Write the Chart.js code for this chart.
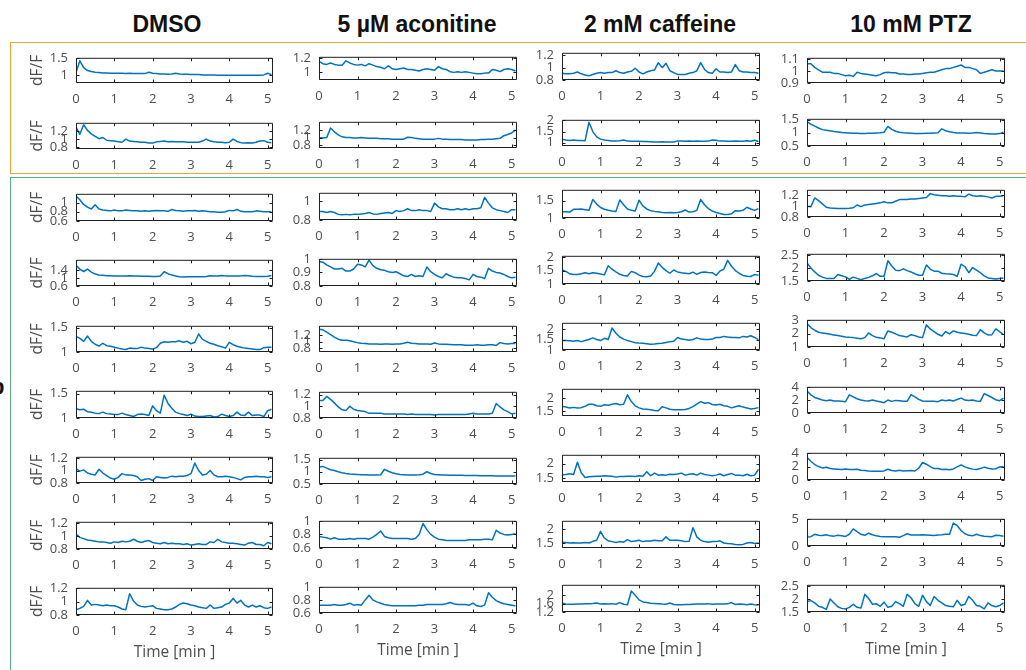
<!DOCTYPE html>
<html>
<head>
<meta charset="utf-8">
<title>dF/F traces</title>
<script src="https://cdn.jsdelivr.net/npm/chart.js@4.4.0/dist/chart.umd.min.js"></script>
<style>
  html, body { margin: 0; padding: 0; background: #fff; }
  body { position: relative; width: 1026px; height: 670px; overflow: hidden; }
  .group { position: absolute; box-sizing: border-box; border: 1.5px solid; }
  .cond {
    position: absolute; top: 13px; width: 260px; text-align: center;
    font: bold 23px/23px 'Liberation Sans', Arial, sans-serif; color: #111;
  }
  .tag { position: absolute; font: bold 22px/22px 'Liberation Sans', Arial, sans-serif; color: #111; }
  canvas { position: absolute; }
</style>
</head>
<body>
<div class="group" style="left:10px; top:42px; width:1030px; height:132px; border-color:#f5a234;"></div>
<div class="group" style="left:10px; top:177px; width:1030px; height:510px; border-color:#52b27a;"></div>
<div class="tag" style="left:-9px; top:376px;">b</div>
<div class="cond" style="left:37px;">DMSO</div>
<div class="cond" style="left:287px;">5 µM aconitine</div>
<div class="cond" style="left:530px;">2 mM caffeine</div>
<div class="cond" style="left:781px;">10 mM PTZ</div>
<script>
// sampling times (min)
const minutes = [
  0.0, 0.1, 0.2, 0.3, 0.4, 0.5, 0.6, 0.7, 0.8, 0.9,
  1.0, 1.1, 1.2, 1.3, 1.4, 1.5, 1.6, 1.7, 1.8, 1.9,
  2.0, 2.1, 2.2, 2.3, 2.4, 2.5, 2.6, 2.7, 2.8, 2.9,
  3.0, 3.1, 3.2, 3.3, 3.4, 3.5, 3.6, 3.7, 3.8, 3.9,
  4.0, 4.1, 4.2, 4.3, 4.4, 4.5, 4.6, 4.7, 4.8, 4.9,
  5.0, 5.1
];
const minuteTicks = [0, 1, 2, 3, 4, 5];

// DMSO
const dmso1 = [1.07,1.42,1.22,1.13,1.10,1.08,1.07,1.06,1.06,1.05, 1.05,1.05,1.05,1.04,1.05,1.04,1.04,1.04,1.04,1.08, 1.05,1.04,1.03,1.03,1.02,1.03,1.05,1.03,1.02,1.02, 1.01,1.01,1.01,1.00,1.00,1.00,1.00,0.99,0.99,0.99, 0.99,0.99,0.99,0.99,0.99,0.99,0.99,0.99,0.99,1.00, 1.05,1.01];
const dmso2 = [1.30,1.12,1.36,1.22,1.13,1.07,1.01,1.04,0.97,0.96, 0.95,0.93,0.92,1.00,0.95,0.94,0.93,0.92,0.92,0.90, 0.90,0.93,0.94,0.95,0.93,0.94,0.93,0.93,0.93,0.92, 0.92,0.92,0.92,0.95,1.00,0.95,0.93,0.92,0.92,0.91, 0.92,1.00,0.94,0.91,0.90,0.91,0.90,0.92,0.95,0.96, 0.92,0.91];
const dmso3 = [1.14,1.06,0.96,0.90,0.86,0.95,0.86,0.84,0.83,0.82, 0.84,0.82,0.82,0.84,0.83,0.82,0.82,0.81,0.82,0.81, 0.82,0.83,0.82,0.82,0.81,0.85,0.83,0.82,0.81,0.82, 0.82,0.83,0.81,0.82,0.81,0.80,0.80,0.79,0.79,0.80, 0.83,0.82,0.85,0.81,0.80,0.80,0.80,0.82,0.81,0.80, 0.80,0.80];
const dmso4 = [1.65,1.45,1.33,1.45,1.30,1.20,1.15,1.14,1.12,1.12, 1.11,1.11,1.10,1.10,1.12,1.10,1.10,1.09,1.09,1.09, 1.08,1.08,1.10,1.32,1.22,1.15,1.10,1.07,1.05,1.06, 1.06,1.06,1.06,1.07,1.08,1.12,1.10,1.10,1.13,1.11, 1.11,1.10,1.10,1.11,1.13,1.12,1.09,1.08,1.08,1.08, 1.09,1.13];
const dmso5 = [1.32,1.28,1.22,1.33,1.22,1.16,1.12,1.18,1.13,1.12, 1.10,1.08,1.06,1.05,1.08,1.07,1.07,1.10,1.08,1.07, 1.06,1.09,1.18,1.21,1.20,1.21,1.21,1.23,1.20,1.22, 1.17,1.20,1.37,1.26,1.22,1.18,1.16,1.13,1.11,1.08, 1.20,1.15,1.12,1.10,1.08,1.07,1.06,1.05,1.05,1.09, 1.10,1.10];
const dmso6 = [1.19,1.17,1.18,1.13,1.12,1.10,1.09,1.12,1.09,1.08, 1.07,1.07,1.10,1.07,1.05,1.03,1.07,1.08,1.07,1.05, 1.25,1.15,1.10,1.47,1.30,1.20,1.12,1.09,1.07,1.05, 1.08,1.04,1.03,1.03,1.04,1.05,1.02,1.03,1.08,1.05, 1.03,1.05,1.12,1.06,1.05,1.12,1.05,1.06,1.06,1.03, 1.15,1.18];
const dmso7 = [1.03,0.99,1.01,0.96,0.94,0.93,1.02,0.96,0.92,0.88, 0.86,0.89,0.95,0.93,0.93,0.92,0.90,0.84,0.86,0.87, 0.84,0.90,0.89,0.88,0.89,0.91,0.90,0.91,0.91,0.92, 0.95,1.12,1.00,0.93,0.94,1.00,0.93,0.90,0.90,0.91, 0.90,0.89,0.87,0.85,0.89,0.90,0.90,0.91,0.90,0.90, 0.89,0.90];
const dmso8 = [1.03,0.98,0.96,0.94,0.93,0.92,0.91,0.91,0.90,0.89, 0.91,0.90,0.92,0.91,0.92,0.95,0.92,0.90,0.92,0.93, 0.90,0.89,0.88,0.90,0.88,0.89,0.88,0.88,0.87,0.88, 0.86,0.87,0.88,0.87,0.87,0.91,0.90,0.95,0.91,0.90, 0.89,0.89,0.88,0.87,0.86,0.89,0.90,0.87,0.87,0.85, 0.90,0.88];
const dmso9 = [0.88,0.90,0.93,1.02,0.95,0.96,0.95,0.94,0.95,0.94, 0.94,0.92,0.89,0.88,1.12,1.01,0.95,0.93,0.92,0.93, 0.94,0.90,0.89,0.88,0.88,0.89,0.92,0.96,0.98,0.97, 0.95,0.94,0.92,0.91,0.90,0.95,0.90,0.91,0.92,0.96, 0.98,1.05,0.98,1.02,0.95,0.92,0.95,0.92,0.94,0.91, 0.90,0.92];
const dmsoRange = [[0.76, 1.51], [0.75, 1.41], [0.6, 1.19], [0.6, 1.92], [1.0, 1.54], [1.0, 1.56], [0.8, 1.22], [0.8, 1.22], [0.8, 1.21]];
const dmsoTicks = [[1, 1.5], [0.8, 1, 1.2], [0.6, 0.8, 1], [0.6, 1, 1.4], [1, 1.5], [1, 1.5], [0.8, 1, 1.2], [0.8, 1, 1.2], [0.8, 1, 1.2]];

// 5 uM aconitine
const aconitine1 = [1.15,1.12,1.11,1.13,1.11,1.10,1.10,1.16,1.13,1.11, 1.10,1.11,1.09,1.12,1.10,1.08,1.07,1.05,1.09,1.05, 1.04,1.05,1.06,1.04,1.04,1.03,1.02,1.04,1.05,1.04, 1.03,1.08,1.05,1.04,1.01,1.00,1.01,1.00,1.01,1.00, 0.99,0.98,0.98,0.99,0.99,1.04,1.03,1.01,1.04,1.05, 1.04,1.02];
const aconitine2 = [1.00,0.99,1.00,1.25,1.15,1.07,1.02,1.00,1.00,0.99, 0.99,1.00,0.99,0.98,0.98,0.98,0.97,0.97,0.97,0.96, 0.96,0.96,0.96,1.01,1.00,0.98,0.97,0.96,0.96,0.96, 0.96,0.98,0.96,0.96,0.95,0.95,0.95,0.95,0.94,0.94, 0.94,0.94,0.95,0.95,0.96,0.96,0.97,0.98,1.05,1.08, 1.12,1.20];
const aconitine3 = [0.89,0.89,0.88,0.89,0.88,0.86,0.855,0.86,0.855,0.86, 0.86,0.865,0.87,0.88,0.865,0.86,0.87,0.875,0.88,0.87, 0.90,0.89,0.90,0.92,0.90,0.90,0.91,0.90,0.90,0.89, 0.98,0.94,0.92,0.92,0.91,0.91,0.92,0.91,0.92,0.91, 0.92,0.92,0.93,1.04,0.98,0.93,0.91,0.90,0.89,0.88, 0.91,0.91];
const aconitine4 = [0.98,0.975,0.955,0.94,0.925,0.925,0.93,0.91,0.91,0.925, 0.96,0.955,0.94,0.99,0.95,0.93,0.92,0.915,0.905,0.90, 0.905,0.89,0.875,0.87,0.885,0.87,0.875,0.87,0.94,0.905, 0.885,0.87,0.86,0.89,0.875,0.865,0.86,0.86,0.855,0.845, 0.885,0.87,0.865,0.855,0.93,0.91,0.90,0.895,0.885,0.87, 0.86,0.865];
const aconitine5 = [1.40,1.38,1.31,1.23,1.15,1.08,1.05,1.05,1.03,1.00, 0.97,0.95,0.94,0.93,0.93,0.93,0.92,0.93,0.93,0.92, 0.93,0.93,0.95,0.98,0.95,0.94,0.93,0.93,0.93,0.92, 0.96,0.93,0.92,0.92,0.91,0.90,0.90,0.90,0.89,0.89, 0.89,0.90,0.89,0.89,0.90,0.90,0.88,0.97,0.94,0.93, 0.94,0.94];
const aconitine6 = [1.10,1.10,1.17,1.12,1.06,0.99,0.94,0.93,1.00,0.95, 0.93,0.92,0.91,0.88,0.88,0.88,0.88,0.87,0.87,0.87, 0.87,0.87,0.87,0.86,0.87,0.86,0.86,0.86,0.86,0.86, 0.85,0.86,0.86,0.86,0.86,0.86,0.86,0.86,0.86,0.87, 0.88,0.87,0.87,0.87,0.87,0.88,1.05,0.99,0.94,0.91, 0.87,0.88];
const aconitine7 = [1.18,1.22,1.15,1.08,1.05,1.00,0.96,0.93,0.91,0.90, 0.89,0.88,0.88,0.87,0.87,0.87,0.88,1.10,1.02,0.96, 0.92,0.89,0.88,0.87,0.87,0.87,0.88,0.90,1.00,0.93, 0.89,0.88,0.87,0.87,0.86,0.86,0.86,0.86,0.85,0.85, 0.85,0.85,0.84,0.84,0.84,0.84,0.83,0.83,0.83,0.83, 0.83,0.83];
const aconitine8 = [0.77,0.76,0.75,0.73,0.75,0.73,0.73,0.73,0.74,0.73, 0.74,0.74,0.74,0.73,0.76,0.80,0.85,0.77,0.75,0.74, 0.74,0.74,0.74,0.74,0.73,0.74,0.80,0.96,0.87,0.80, 0.76,0.73,0.72,0.71,0.71,0.71,0.71,0.71,0.71,0.72, 0.72,0.72,0.72,0.73,0.73,0.72,0.86,0.82,0.80,0.79, 0.80,0.81];
const aconitine9 = [0.72,0.72,0.72,0.72,0.73,0.72,0.72,0.73,0.75,0.72, 0.73,0.72,0.80,0.87,0.80,0.77,0.75,0.73,0.72,0.71, 0.71,0.71,0.71,0.71,0.71,0.71,0.72,0.72,0.73,0.73, 0.73,0.73,0.73,0.74,0.76,0.74,0.73,0.73,0.73,0.72, 0.75,0.71,0.70,0.72,0.91,0.84,0.79,0.76,0.74,0.73, 0.72,0.71];
const aconitineRange = [[0.895, 1.215], [0.73, 1.41], [0.8, 1.09], [0.8, 1.0], [0.67, 1.51], [0.8, 1.25], [0.5, 1.57], [0.6, 1.0], [0.6, 1.0]];
const aconitineTicks = [[1, 1.2], [0.8, 1, 1.2], [0.8, 1], [0.8, 0.9, 1], [0.8, 1, 1.2], [0.8, 1, 1.2], [0.5, 1, 1.5], [0.6, 0.8, 1], [0.6, 0.8, 1]];

// 2 mM caffeine
const caffeine1 = [0.91,0.90,0.90,0.91,0.93,0.90,0.88,0.87,0.89,0.91, 0.92,0.91,0.92,0.92,0.95,0.92,0.91,0.93,0.94,0.99, 0.93,0.90,0.93,0.95,0.96,1.08,1.00,1.07,0.95,0.92, 0.89,0.89,0.89,0.91,0.92,0.95,1.08,0.97,0.92,0.91, 0.98,0.93,0.93,0.92,0.93,1.05,0.95,0.93,0.93,0.92, 0.92,0.91];
const caffeine2 = [1.15,1.12,1.10,1.12,1.10,1.10,1.09,1.92,1.50,1.26, 1.16,1.12,1.10,1.08,1.08,1.09,1.12,1.07,1.06,1.06, 1.06,1.05,1.05,1.04,1.03,1.03,1.04,1.03,1.03,1.03, 1.08,1.07,1.06,1.08,1.06,1.07,1.06,1.06,1.07,1.12, 1.11,1.07,1.07,1.06,1.06,1.07,1.06,1.06,1.09,1.06, 1.11,1.05];
const caffeine3 = [1.18,1.18,1.17,1.25,1.25,1.26,1.24,1.22,1.53,1.40, 1.30,1.25,1.22,1.20,1.19,1.52,1.38,1.26,1.22,1.20, 1.51,1.35,1.26,1.21,1.19,1.18,1.16,1.15,1.16,1.15, 1.16,1.18,1.23,1.17,1.18,1.22,1.53,1.38,1.27,1.20, 1.16,1.13,1.10,1.10,1.12,1.21,1.20,1.22,1.31,1.26, 1.22,1.27];
const caffeine4 = [1.52,1.47,1.38,1.35,1.35,1.38,1.42,1.38,1.42,1.40, 1.37,1.34,1.68,1.55,1.45,1.36,1.32,1.30,1.47,1.42, 1.33,1.28,1.27,1.30,1.47,1.78,1.62,1.50,1.40,1.52, 1.45,1.42,1.40,1.38,1.44,1.36,1.43,1.45,1.43,1.42, 1.32,1.48,1.55,1.88,1.66,1.50,1.40,1.32,1.29,1.28, 1.35,1.33];
const caffeine5 = [1.46,1.45,1.44,1.42,1.45,1.40,1.45,1.50,1.58,1.50, 1.45,1.56,1.50,2.05,1.80,1.62,1.52,1.45,1.40,1.35, 1.33,1.32,1.30,1.28,1.29,1.31,1.32,1.36,1.40,1.42, 1.60,1.52,1.50,1.47,1.50,1.58,1.52,1.50,1.50,1.52, 1.60,1.60,1.65,1.62,1.60,1.60,1.58,1.65,1.62,1.68, 1.60,1.50];
const caffeine6 = [1.68,1.65,1.62,1.64,1.62,1.63,1.68,1.76,1.76,1.70, 1.68,1.74,1.72,1.76,1.79,1.74,1.76,2.12,1.86,1.70, 1.62,1.58,1.57,1.55,1.52,1.51,1.66,1.62,1.57,1.55, 1.55,1.55,1.56,1.60,1.67,1.76,1.86,1.80,1.82,1.75, 1.73,1.76,1.70,1.68,1.62,1.66,1.70,1.65,1.62,1.58, 1.60,1.63];
const caffeine7 = [1.60,1.62,1.65,1.62,2.05,1.68,1.52,1.54,1.55,1.56, 1.56,1.58,1.57,1.56,1.53,1.55,1.55,1.56,1.56,1.55, 1.58,1.56,1.72,1.58,1.67,1.60,1.61,1.60,1.63,1.62, 1.64,1.67,1.60,1.63,1.65,1.60,1.67,1.62,1.60,1.58, 1.60,1.64,1.58,1.62,1.66,1.60,1.60,1.58,1.63,1.58, 1.60,1.80];
const caffeine8 = [1.53,1.52,1.50,1.51,1.50,1.50,1.52,1.50,1.56,1.60, 1.92,1.68,1.58,1.55,1.52,1.55,1.53,1.62,1.55,1.57, 1.60,1.55,1.57,1.57,1.60,1.58,1.58,1.72,1.60,1.60, 1.60,1.58,1.55,1.56,2.05,1.72,1.60,1.55,1.53,1.55, 1.55,1.58,1.50,1.48,1.47,1.45,1.44,1.45,1.50,1.52, 1.48,1.50];
const caffeine9 = [1.62,1.58,1.57,1.57,1.58,1.58,1.60,1.60,1.61,1.63, 1.58,1.60,1.58,1.60,1.57,1.65,1.57,1.55,2.20,2.00, 1.78,1.68,1.65,1.62,1.61,1.60,1.58,1.57,1.63,1.56, 1.55,1.55,1.56,1.56,1.57,1.58,1.58,1.58,1.60,1.57, 1.58,1.58,1.58,1.59,1.65,1.56,1.58,1.57,1.55,1.58, 1.55,1.53];
const caffeineRange = [[0.8, 1.24], [0.85, 2.03], [1.0, 1.81], [1.0, 2.05], [1.0, 2.3], [1.31, 2.35], [1.36, 2.31], [1.32, 2.3], [1.2, 2.5]];
const caffeineTicks = [[0.8, 1, 1.2], [1, 1.5, 2], [1, 1.5], [1, 1.5, 2], [1, 1.5, 2], [1.5, 2], [1.5, 2], [1.5, 2], [1.2, 1.6, 2]];

// 10 mM PTZ
const ptz1 = [1.06,1.06,1.03,1.01,0.99,0.99,0.99,0.98,0.98,0.97, 0.96,0.965,0.955,0.99,0.98,0.975,0.97,0.965,0.96,0.97, 0.985,0.99,0.985,0.985,0.975,0.975,0.97,0.97,0.975,0.975, 0.98,0.985,0.99,0.99,1.00,1.01,1.02,1.02,1.03,1.04, 1.05,1.03,1.03,1.02,1.01,0.98,0.99,1.00,1.01,1.00, 1.00,1.00];
const ptz2 = [1.42,1.33,1.25,1.18,1.12,1.10,1.08,1.05,1.03,1.01, 1.00,0.99,0.98,0.98,0.97,0.97,0.98,0.98,0.99,1.00, 1.02,1.24,1.13,1.06,1.02,1.00,0.99,0.98,0.97,0.97, 0.97,0.98,0.98,0.99,1.00,1.15,1.08,1.04,1.01,0.99, 0.99,0.99,0.98,0.99,1.01,0.99,0.97,0.96,0.95,0.95, 0.97,1.02];
const ptz3 = [1.00,0.99,1.15,1.10,1.04,0.98,0.965,0.96,0.955,0.955, 0.955,0.96,0.97,1.02,0.99,1.02,1.03,1.04,1.05,1.06, 1.08,1.06,1.06,1.09,1.12,1.12,1.12,1.13,1.13,1.14, 1.15,1.16,1.23,1.21,1.20,1.19,1.19,1.18,1.19,1.18, 1.18,1.17,1.22,1.19,1.18,1.19,1.18,1.17,1.15,1.18, 1.18,1.19];
const ptz4 = [2.20,2.00,1.85,1.72,1.65,1.60,1.60,1.60,1.75,1.70, 1.66,1.56,1.65,1.60,1.55,1.60,1.64,1.70,1.79,1.68, 1.68,2.28,2.08,1.92,1.90,1.97,1.90,1.85,1.78,1.72, 1.72,2.12,1.96,1.88,1.88,1.80,1.78,1.77,1.75,1.68, 2.15,2.05,1.82,2.02,1.92,1.82,1.70,1.62,1.60,1.58, 1.60,1.62];
const ptz5 = [2.75,2.45,2.25,2.10,2.05,2.00,1.95,1.90,1.85,1.80, 1.75,1.72,1.70,1.66,1.62,1.70,2.05,1.85,1.72,1.68, 1.62,2.20,2.10,1.98,1.85,1.80,1.75,1.92,1.85,1.75, 1.70,2.65,2.35,2.15,1.95,1.82,2.15,1.98,2.20,2.10, 2.05,2.00,1.95,1.88,1.85,2.30,2.05,1.90,1.92,2.35, 2.15,1.92];
const ptz6 = [3.40,2.80,2.40,2.20,2.00,1.90,2.00,1.85,1.85,1.80, 1.75,2.80,2.50,2.20,2.00,1.90,1.85,2.00,1.85,1.75, 1.60,2.00,1.80,1.95,1.90,1.80,1.80,2.85,2.50,2.10, 1.85,1.80,1.80,1.80,1.75,2.00,1.90,2.00,1.85,2.10, 2.30,2.00,1.95,2.00,1.85,1.80,3.00,2.70,2.40,2.05, 1.90,2.30];
const ptz7 = [3.40,2.80,2.30,2.00,1.80,1.90,1.70,1.65,1.60,1.55, 1.65,1.55,1.55,1.60,1.45,1.40,1.35,1.32,1.30,1.30, 1.35,1.60,1.42,1.35,1.45,1.35,1.38,1.40,1.35,1.75, 2.60,2.35,2.00,1.70,1.72,1.55,1.60,1.52,1.65,1.95, 2.25,1.95,1.75,1.62,1.55,1.70,1.92,1.75,1.65,1.68, 1.95,2.00];
const ptz8 = [1.70,1.75,2.20,2.00,1.95,2.10,1.90,1.85,2.00,1.90, 1.80,2.20,3.20,2.70,2.20,2.00,2.40,2.10,1.90,1.80, 1.75,1.75,1.72,1.75,1.65,1.95,2.30,2.05,2.05,2.05, 2.10,2.05,2.00,1.95,2.05,2.10,2.20,2.20,4.30,3.80, 2.90,2.30,2.00,1.90,2.20,1.95,1.85,1.80,1.75,2.00, 1.95,1.85];
const ptz9 = [1.90,1.94,1.85,1.72,1.68,1.60,2.00,1.85,1.70,1.64, 1.62,1.68,1.80,1.68,1.65,2.18,2.02,1.80,1.82,1.72, 1.88,1.68,1.72,1.90,1.82,1.72,2.18,2.05,1.82,1.72, 2.15,1.90,1.75,2.10,1.95,1.85,1.75,1.72,1.70,1.95, 1.75,1.80,2.10,1.95,1.75,1.72,1.62,1.85,1.75,1.70, 1.75,1.85];
const ptzRange = [[0.9, 1.11], [0.5, 1.53], [0.8, 1.3], [1.5, 2.55], [1.0, 3.03], [0.0, 4.05], [0.0, 4.05], [0.0, 5.1], [1.5, 2.55]];
const ptzTicks = [[0.9, 1, 1.1], [0.5, 1, 1.5], [0.8, 1, 1.2], [1.5, 2, 2.5], [1, 2, 3], [0, 2, 4], [0, 2, 4], [0, 5], [1.5, 2, 2.5]];

const columns = [
  { traces: [dmso1, dmso2, dmso3, dmso4, dmso5, dmso6, dmso7, dmso8, dmso9], ranges: dmsoRange, ticks: dmsoTicks },
  { traces: [aconitine1, aconitine2, aconitine3, aconitine4, aconitine5, aconitine6, aconitine7, aconitine8, aconitine9], ranges: aconitineRange, ticks: aconitineTicks },
  { traces: [caffeine1, caffeine2, caffeine3, caffeine4, caffeine5, caffeine6, caffeine7, caffeine8, caffeine9], ranges: caffeineRange, ticks: caffeineTicks },
  { traces: [ptz1, ptz2, ptz3, ptz4, ptz5, ptz6, ptz7, ptz8, ptz9], ranges: ptzRange, ticks: ptzTicks }
];

// axes boxes on the page (px)
const colLeft = [76, 319, 562, 807];
const colRight = [273, 517, 760, 1005];
const rowTop = [
  [52, 117, 188, 254, 320, 385, 451, 516, 582],
  [51, 116, 187, 253, 320, 386, 452, 515, 581],
  [47, 114, 184, 250, 317, 383, 449, 515, 579],
  [52, 113, 184, 248, 314, 381, 447, 513, 579]
];
const rowBottom = [
  [83, 149, 221, 286, 352, 418, 483, 549, 615],
  [80, 148, 220, 286, 352, 418, 484, 548, 613],
  [80, 146, 218, 284, 350, 416, 482, 548, 612],
  [83, 146, 217, 281, 347, 413, 480, 546, 612]
];

const YW = 60, PT = 10, PR = 10;
const axisInk = '#1f1f1f';
const labelInk = '#4d4d4d';
const traceBlue = '#0072bd';
const tickFont = { family: "'Open Sans', sans-serif", size: 13 };
const titleFont = { family: "'Open Sans', sans-serif", size: 15.5 };

// MATLAB-style box with inward ticks on all four sides
const boxAndTicks = {
  id: 'boxAndTicks',
  afterDatasetsDraw(chart) {
    const { ctx, chartArea: a, scales: { x, y } } = chart;
    const l = a.left + 0.5, r = a.right - 0.5, t = a.top + 0.5, b = a.bottom - 0.5;
    ctx.save();
    ctx.strokeStyle = axisInk;
    ctx.lineWidth = 1;
    ctx.beginPath();
    x.ticks.forEach(tk => {
      const px = Math.round(x.getPixelForValue(tk.value)) + 0.5;
      ctx.moveTo(px, b); ctx.lineTo(px, b - 3);
      ctx.moveTo(px, t); ctx.lineTo(px, t + 3);
    });
    y.ticks.forEach(tk => {
      const py = Math.round(y.getPixelForValue(tk.value)) + 0.5;
      ctx.moveTo(l, py); ctx.lineTo(l + 3, py);
      ctx.moveTo(r, py); ctx.lineTo(r - 3, py);
    });
    ctx.rect(l, t, r - l, b - t);
    ctx.stroke();
    ctx.restore();
  }
};

function drawPanel(col, row) {
  const spec = columns[col];
  const values = spec.traces[row];
  const [yMin, yMax] = spec.ranges[row];
  const yTicks = spec.ticks[row];
  const lastRow = row === spec.traces.length - 1;
  const XH = lastRow ? 47 : 28;

  const L = colLeft[col], R = colRight[col];
  const T = rowTop[col][row], B = rowBottom[col][row];

  const canvas = document.createElement('canvas');
  canvas.width = (R - L) + YW + PR;
  canvas.height = (B - T) + PT + XH;
  canvas.style.left = (L - YW) + 'px';
  canvas.style.top = (T - PT) + 'px';
  document.body.appendChild(canvas);

  new Chart(canvas, {
    type: 'line',
    data: {
      datasets: [{
        data: values.map((v, i) => ({ x: minutes[i], y: v })),
        borderColor: traceBlue,
        borderWidth: 1.5,
        borderJoinStyle: 'round',
        pointRadius: 0,
        tension: 0
      }]
    },
    options: {
      responsive: false,
      animation: false,
      events: [],
      layout: { padding: { left: 0, top: PT, right: PR, bottom: 0 }, autoPadding: false },
      plugins: { legend: { display: false }, tooltip: { enabled: false } },
      scales: {
        x: {
          type: 'linear',
          min: 0,
          max: 5.14,
          bounds: 'data',
          afterBuildTicks: s => { s.ticks = minuteTicks.map(v => ({ value: v })); },
          afterFit: s => { s.height = XH; },
          grid: { display: false, drawTicks: false },
          border: { display: false },
          ticks: { autoSkip: false, maxRotation: 0, padding: 8, color: labelInk, font: tickFont, callback: v => String(v) },
          title: { display: lastRow, text: 'Time [min ]', color: labelInk, font: titleFont, padding: { top: 0, bottom: 0 } }
        },
        y: {
          type: 'linear',
          min: yMin,
          max: yMax,
          bounds: 'data',
          afterBuildTicks: s => { s.ticks = yTicks.map(v => ({ value: v })); },
          afterFit: s => { s.width = YW; },
          grid: { display: false, drawTicks: false },
          border: { display: false },
          ticks: { autoSkip: false, padding: 8, color: labelInk, font: tickFont, callback: v => String(v) },
          title: { display: col === 0, text: 'dF/F', color: labelInk, font: titleFont, padding: { top: 12, bottom: 0 } }
        }
      }
    },
    plugins: [boxAndTicks]
  });
}

for (let c = 0; c < columns.length; c++) {
  for (let r = 0; r < columns[c].traces.length; r++) {
    drawPanel(c, r);
  }
}
</script>
</body>
</html>
